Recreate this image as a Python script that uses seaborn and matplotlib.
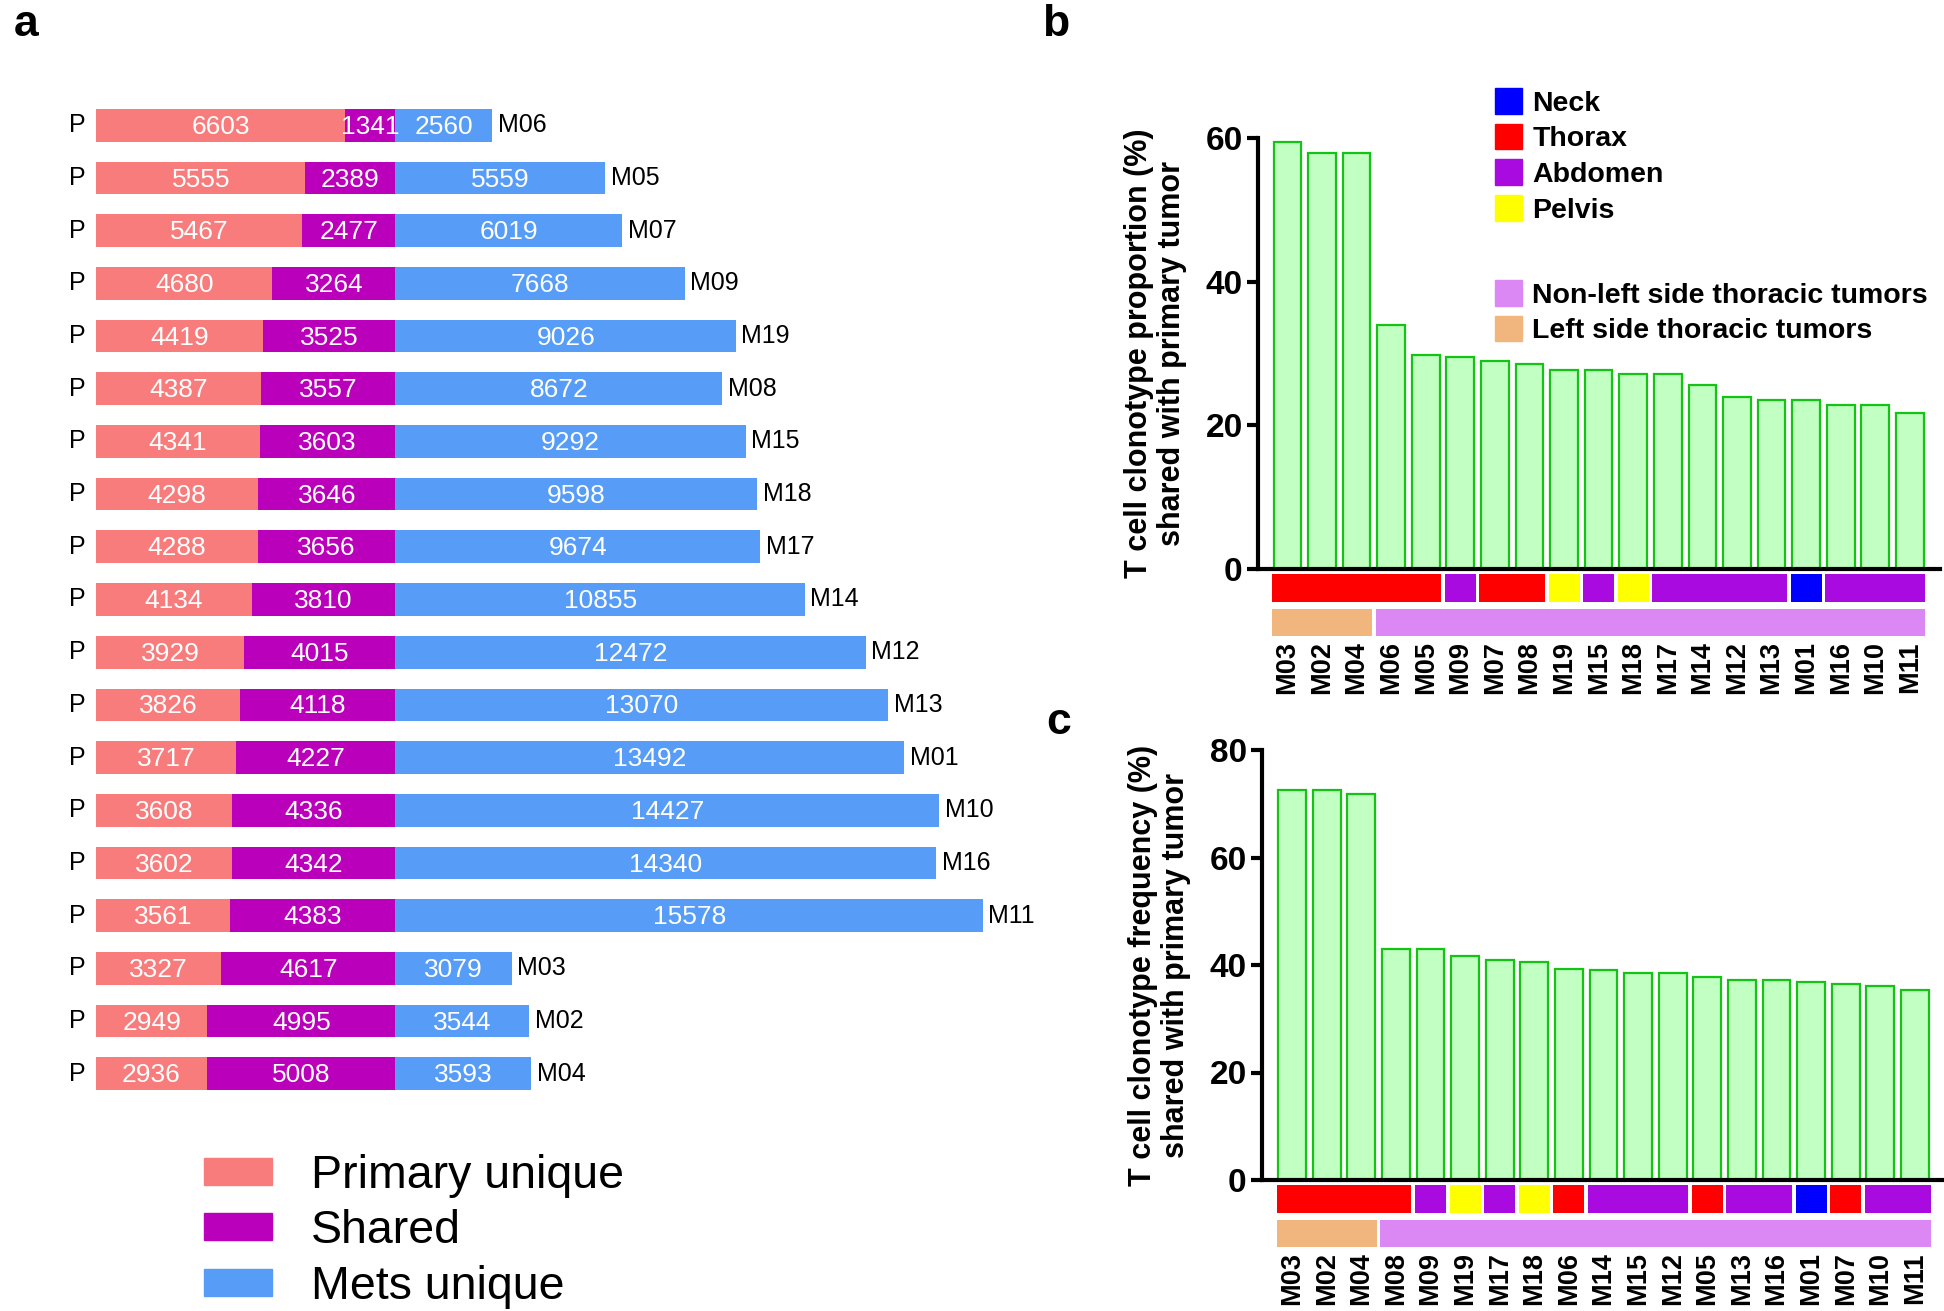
import matplotlib
matplotlib.use("Agg")

import matplotlib.pyplot as plt
from matplotlib.patches import Patch, Rectangle
import pandas as pd
import seaborn as sns

# ─── Panel a: clonotype counts per metastasis ────────────────────────────────
mets = ["M06", "M05", "M07", "M09", "M19", "M08", "M15", "M18", "M17", "M14",
        "M12", "M13", "M01", "M10", "M16", "M11", "M03", "M02", "M04"]
primary_unique = [6603, 5555, 5467, 4680, 4419, 4387, 4341, 4298, 4288, 4134,
                  3929, 3826, 3717, 3608, 3602, 3561, 3327, 2949, 2936]
shared = [1341, 2389, 2477, 3264, 3525, 3557, 3603, 3646, 3656, 3810,
          4015, 4118, 4227, 4336, 4342, 4383, 4617, 4995, 5008]
mets_unique = [2560, 5559, 6019, 7668, 9026, 8672, 9292, 9598, 9674, 10855,
               12472, 13070, 13492, 14427, 14340, 15578, 3079, 3544, 3593]

# ─── Panel b: proportion shared with primary ─────────────────────────────────
order_b = ["M03", "M02", "M04", "M06", "M05", "M09", "M07", "M08", "M19", "M15",
           "M18", "M17", "M14", "M12", "M13", "M01", "M16", "M10", "M11"]
proportion = [59.5, 57.9, 57.9, 33.9, 29.8, 29.5, 28.9, 28.6, 27.7, 27.7,
              27.1, 27.1, 25.6, 24.0, 23.5, 23.5, 22.9, 22.9, 21.7]

# ─── Panel c: frequency shared with primary ──────────────────────────────────
order_c = ["M03", "M02", "M04", "M08", "M09", "M19", "M17", "M18", "M06", "M14",
           "M15", "M12", "M05", "M13", "M16", "M01", "M07", "M10", "M11"]
frequency = [72.5, 72.5, 71.8, 43.0, 43.0, 41.7, 40.9, 40.5, 39.3, 39.0,
             38.5, 38.5, 37.7, 37.3, 37.3, 36.9, 36.5, 36.1, 35.3]

# metastasis sites
site_of = {"M01": "Neck", "M02": "Thorax", "M03": "Thorax", "M04": "Thorax",
           "M05": "Thorax", "M06": "Thorax", "M07": "Thorax", "M08": "Thorax",
           "M09": "Abdomen", "M10": "Abdomen", "M11": "Abdomen", "M12": "Abdomen",
           "M13": "Abdomen", "M14": "Abdomen", "M15": "Abdomen", "M16": "Abdomen",
           "M17": "Abdomen", "M18": "Pelvis", "M19": "Pelvis"}
left_side = ["M02", "M03", "M04"]

site_colors = {"Neck": "#0000ff", "Thorax": "#ff0000", "Abdomen": "#a80ae0", "Pelvis": "#ffff00"}
side_colors = {"Non-left side thoracic tumors": "#dc88f4", "Left side thoracic tumors": "#f0b67e"}
SEG_COLORS = ["#f87c7c", "#bb00bb", "#579cf7"]
BAR_FACE, BAR_EDGE = "#c2ffc2", "#14c414"

sns.set_style("white")
plt.rcParams["font.family"] = ["Liberation Sans", "DejaVu Sans"]
for k in ["text.color", "axes.labelcolor", "xtick.color", "ytick.color"]:
    plt.rcParams[k] = "black"

W, H = 1944, 1311
fig = plt.figure(figsize=(W / 100, H / 100), dpi=100)


def fbox(x0, y0, x1, y1):
    # pixel box -> figure fraction [left, bottom, width, height]
    return [x0 / W, 1 - y1 / H, (x1 - x0) / W, (y1 - y0) / H]


# ─── a ───────────────────────────────────────────────────────────────────────
PX = 0.0377             # pixels per clonotype
LEFT_PX = 96
axa = fig.add_axes(fbox(0, 99, 1040, 1100))
df_a = pd.DataFrame({"met": mets, "p": primary_unique, "s": shared, "m": mets_unique})
df_a["ps"] = df_a.p + df_a.s
df_a["tot"] = df_a.ps + df_a.m
for col, c in zip(["tot", "ps", "p"], SEG_COLORS[::-1]):
    sns.barplot(data=df_a, y="met", x=col, order=mets, color=c, saturation=1,
                width=0.62, orient="h", linewidth=0, ax=axa)
axa.set_xlim(-LEFT_PX / PX, (1040 - LEFT_PX) / PX)
axa.set_ylim(18.5, -0.5)
axa.axis("off")

for i, r in df_a.iterrows():
    axa.text(-280, i, "P", ha="right", va="center", fontsize=18)
    axa.text(r.tot + 150, i, r.met, ha="left", va="center", fontsize=18)
    for x, v in [(r.p / 2, r.p), (r.p + r.s / 2, r.s), (r.ps + r.m / 2, r.m)]:
        axa.text(x, i + 0.03, f"{v}", ha="center", va="center", color="white",
                 fontsize=19)

fig.legend(handles=[Patch(color=c) for c in SEG_COLORS],
           labels=["Primary unique", "Shared", "Mets unique"],
           loc="upper left", bbox_to_anchor=(181 / W, 1 - 1131 / H), frameon=False,
           fontsize=33.5, handlelength=1.45, handleheight=0.52, handletextpad=0.85,
           labelspacing=0.24, borderpad=0)


# ─── b & c ───────────────────────────────────────────────────────────────────
def strip_runs(ax, labels, colors, y0, h):
    start = 0
    for i in range(1, len(labels) + 1):
        if i == len(labels) or labels[i] != labels[start]:
            ax.add_patch(Rectangle((start - 0.45, y0), (i - 1 - start) + 0.9, h,
                                   transform=ax.get_xaxis_transform(), clip_on=False,
                                   color=colors[labels[start]], lw=0))
            start = i


def share_panel(box, order, values, ymax, ylabel, xlim):
    ax = fig.add_axes(fbox(*box))
    df = pd.DataFrame({"met": order, "val": values})
    sns.barplot(data=df, x="met", y="val", order=order, color=BAR_FACE, saturation=1,
                edgecolor=BAR_EDGE, linewidth=1.6, width=0.8, ax=ax)
    ax.set_ylim(0, ymax)
    ax.set_xlim(*xlim)
    ax.set_yticks(range(0, ymax + 1, 20))
    sns.despine(ax=ax)
    for s in ["left", "bottom"]:
        ax.spines[s].set_linewidth(3)
        ax.spines[s].set_color("black")
    ax.tick_params(axis="y", length=8, width=3, labelsize=24, pad=3, left=True)
    ax.tick_params(axis="x", length=0, labelsize=19.5, pad=52, rotation=90)
    for t in ax.get_xticklabels() + ax.get_yticklabels():
        t.set_fontweight("bold")
    ax.set_xlabel("")
    ax.set_ylabel(ylabel, fontsize=22, fontweight="bold", labelpad=13, linespacing=1.15)

    sites = [site_of[m] for m in order]
    sides = ["Left side thoracic tumors" if m in left_side else "Non-left side thoracic tumors"
             for m in order]
    hpx = box[3] - box[1]
    strip_runs(ax, sites, site_colors, -33 / hpx, 28 / hpx)
    strip_runs(ax, sides, side_colors, -67 / hpx, 27 / hpx)
    return ax


ylab_b = "T cell clonotype proportion (%)\nshared with primary tumor"
ylab_c = "T cell clonotype frequency (%)\nshared with primary tumor"
axb = share_panel((1258, 138, 1940, 569), order_b, proportion, 60, ylab_b, (-0.85, 18.87))
axc = share_panel((1262, 750, 1944, 1180), order_c, frequency, 80, ylab_c, (-0.87, 18.84))

fig.legend(handles=[Patch(color=c) for c in site_colors.values()],
           labels=list(site_colors.keys()), loc="upper left",
           bbox_to_anchor=(1481 / W, 1 - 74 / H), frameon=False,
           prop={"size": 20.5, "weight": "bold"}, handlelength=0.95, handleheight=1.0,
           handletextpad=0.35, labelspacing=0.25, borderpad=0)
fig.legend(handles=[Patch(color=c) for c in side_colors.values()],
           labels=list(side_colors.keys()), loc="upper left",
           bbox_to_anchor=(1481 / W, 1 - 266 / H), frameon=False,
           prop={"size": 20.5, "weight": "bold"}, handlelength=0.95, handleheight=1.0,
           handletextpad=0.35, labelspacing=0.25, borderpad=0)

# panel letters
for x, y, s in [(14, 24, "a"), (1042, 24, "b"), (1046, 722, "c")]:
    fig.text(x / W, 1 - y / H, s, fontsize=32, fontweight="bold", ha="left", va="center")

fig.savefig("out.png", dpi=100, facecolor="white")
